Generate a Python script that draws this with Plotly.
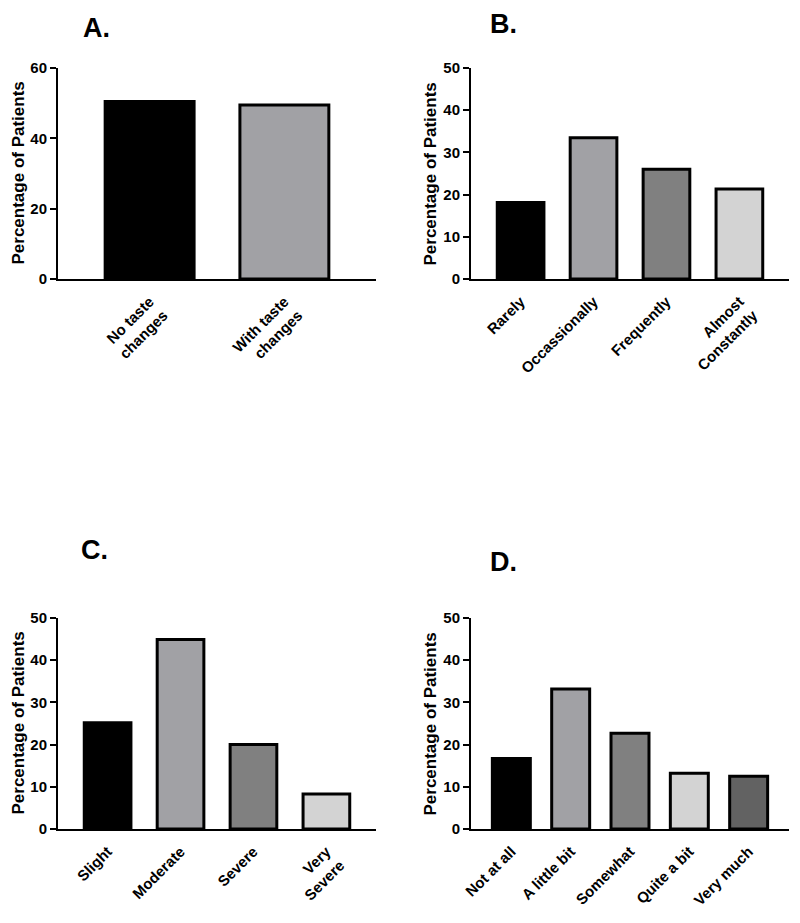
import plotly.graph_objects as go

# target page pixels (reference); the html body adds an 8px margin
PAGE_W, PAGE_H = 800, 923
OFF = 8
W, H = PAGE_W - 2 * OFF, PAGE_H - 2 * OFF

# ---- data ----
a_cats = ["No taste<br>changes", "With taste<br>changes"]
a_vals = [50.5, 49.5]

b_cats = ["Rarely", "Occassionally", "Frequently", "Almost<br>Constantly"]
b_vals = [18.1, 33.5, 26.0, 21.3]

c_cats = ["Slight", "Moderate", "Severe", "Very<br>Severe"]
c_vals = [25.2, 44.9, 20.0, 8.3]

d_cats = ["Not at all", "A little bit", "Somewhat", "Quite a bit", "Very much"]
d_vals = [16.7, 33.2, 22.7, 13.2, 12.5]

colors5 = ["#000000", "#a1a1a5", "#808080", "#d3d3d3", "#626262"]

FONT = "Liberation Sans, Arial, sans-serif"


def px(x):
    return (x - OFF) / W


def py(y):
    return 1 - (y - OFF) / H


fig = go.Figure()

panels = [
    # cats, vals, ymax, dtick, x px span, y px span (top,bottom), label, label pos, ytitle x, bar width
    (a_cats, a_vals, 60, 20, (58, 376), (68, 279), "A.", (96, 28), 18, 0.66),
    (b_cats, b_vals, 50, 10, (471, 789), (68, 279), "B.", (503, 24), 430, 0.64),
    (c_cats, c_vals, 50, 10, (58, 376), (618, 829), "C.", (94, 550), 18, 0.64),
    (d_cats, d_vals, 50, 10, (471, 789), (618, 829), "D.", (503, 562), 430, 0.64),
]

layout = {}
annotations = []
for i, (cats, vals, ymax, dt, xd, yd, lab, lpos, ytx, bw) in enumerate(panels):
    n = i + 1
    xa = "x" if n == 1 else f"x{n}"
    ya = "y" if n == 1 else f"y{n}"
    fig.add_trace(go.Bar(
        x=list(range(len(cats))), y=vals, xaxis=xa, yaxis=ya,
        width=bw,
        marker=dict(color=colors5[:len(cats)], line=dict(color="black", width=3)),
        showlegend=False,
    ))
    xkey = "xaxis" if n == 1 else f"xaxis{n}"
    ykey = "yaxis" if n == 1 else f"yaxis{n}"
    layout[xkey] = dict(
        domain=[px(xd[0]), px(xd[1])], anchor=ya,
        range=[-0.68, len(cats) - 1 + 0.68],
        tickmode="array", tickvals=list(range(len(cats))), ticktext=cats,
        tickangle=-45, showline=True, linecolor="black", linewidth=2,
        ticks="", showgrid=False, zeroline=False, ticklabelstandoff=6,
        automargin=False,
        tickfont=dict(family=FONT, size=15, color="black", weight="bold"),
    )
    layout[ykey] = dict(
        domain=[py(yd[1]), py(yd[0])], anchor=xa,
        range=[0, ymax], dtick=dt, tick0=0,
        showline=True, linecolor="black", linewidth=2,
        ticks="outside", ticklen=6, tickwidth=2, tickcolor="black",
        showgrid=False, zeroline=False, automargin=False,
        tickfont=dict(family=FONT, size=15, color="black", weight="bold"),
    )
    annotations.append(dict(
        text=lab, x=px(lpos[0]), y=py(lpos[1]), xref="paper", yref="paper",
        xanchor="center", yanchor="middle", showarrow=False,
        font=dict(family=FONT, size=27, color="black", weight="bold"),
    ))
    annotations.append(dict(
        text="Percentage of Patients", textangle=-90,
        x=px(ytx), y=py((yd[0] + yd[1]) / 2), xref="paper", yref="paper",
        xanchor="center", yanchor="middle", showarrow=False,
        font=dict(family=FONT, size=17, color="black", weight="bold"),
    ))

fig.update_layout(
    template="none",
    width=W, height=H,
    margin=dict(l=0, r=0, t=0, b=0, pad=0),
    paper_bgcolor="white", plot_bgcolor="white",
    annotations=annotations,
    **layout,
)

fig.write_html("out.html")
